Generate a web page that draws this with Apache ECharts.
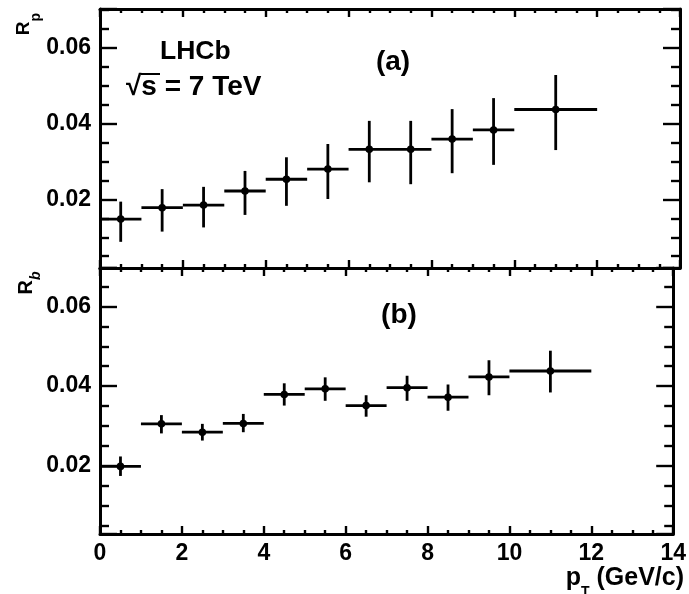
<!DOCTYPE html>
<html><head><meta charset="utf-8">
<script src="https://cdn.jsdelivr.net/npm/echarts@6/dist/echarts.min.js"></script>
<style>html,body{margin:0;padding:0;background:#fff}#c{width:689px;height:594px}</style>
</head><body><div id="c"></div>
<script>
// ---- data ----
const binEdges = [0, 1, 2, 3, 4, 5, 6, 7, 8, 9, 10, 12];
const xTicks = [0, 2, 4, 6, 8, 10, 12, 14];
const yTicks = [0.02, 0.04, 0.06];
// panel (a): R_p
const rpValues = [0.0148, 0.0178, 0.0185, 0.0222, 0.0253, 0.0280, 0.0332, 0.0332, 0.0359, 0.0383, 0.0437];
const rpUpper  = [0.0194, 0.0227, 0.0233, 0.0275, 0.0311, 0.0346, 0.0407, 0.0407, 0.0438, 0.0467, 0.0528];
const rpLower  = [0.0088, 0.0115, 0.0126, 0.0159, 0.0183, 0.0201, 0.0245, 0.0240, 0.0269, 0.0291, 0.0330];
// panel (b): R_b
const rbValues = [0.0198, 0.0305, 0.0284, 0.0306, 0.0379, 0.0393, 0.0351, 0.0396, 0.0372, 0.0423, 0.0438];
const rbUpper  = [0.0223, 0.0327, 0.0305, 0.0330, 0.0407, 0.0422, 0.0377, 0.0426, 0.0404, 0.0465, 0.0489];
const rbLower  = [0.0174, 0.0281, 0.0263, 0.0284, 0.0351, 0.0363, 0.0323, 0.0363, 0.0338, 0.0377, 0.0384];

function buildRows(vals, lo, hi) {
  return vals.map((v, i) => [binEdges[i], binEdges[i + 1], v, lo[i], hi[i]]);
}

const FONT = 'Liberation Sans, Arial, Helvetica, sans-serif';
const AXLAB = {fontFamily: FONT, fontWeight: 'bold', fontSize: 23, color: '#000'};
const LINE = {color: '#000', width: 3};
const TICK = {color: '#000', width: 2.4};

function xAx(gridIndex, position, showLabel) {
  return {
    type: 'value', gridIndex, position, min: 0, max: 14, interval: 2,
    axisLine: {show: true, onZero: false, lineStyle: LINE},
    axisTick: {show: true, inside: true, length: 8, lineStyle: TICK},
    minorTick: {show: true, splitNumber: 4, length: 4, lineStyle: TICK},
    splitLine: {show: false}, minorSplitLine: {show: false},
    axisLabel: showLabel ? Object.assign({}, AXLAB, {margin: 8, showMinLabel: true, showMaxLabel: true,
      formatter: v => (xTicks.indexOf(v) >= 0 ? String(v) : '')}) : {show: false}
  };
}
function yAx(gridIndex, position, showLabel, min, max) {
  return {
    type: 'value', gridIndex, position, min, max,
    minInterval: 0.02, maxInterval: 0.02, splitNumber: 3,
    axisLine: {show: true, onZero: false, lineStyle: LINE},
    axisTick: {show: true, inside: true, length: 17, lineStyle: TICK},
    minorTick: {show: true, splitNumber: 4, length: 9, lineStyle: TICK},
    splitLine: {show: false}, minorSplitLine: {show: false},
    axisLabel: showLabel ? Object.assign({}, AXLAB, {margin: 9, showMinLabel: false, showMaxLabel: false,
      formatter: v => (yTicks.some(t => Math.abs(t - v) < 1e-6) ? v.toFixed(2) : '')}) : {show: false}
  };
}

function renderItem(params, api) {
  const x0 = api.value(0), x1 = api.value(1), y = api.value(2), lo = api.value(3), hi = api.value(4);
  const xc = (x0 + x1) / 2;
  const pL = api.coord([x0, y]), pR = api.coord([x1, y]);
  const pT = api.coord([xc, hi]), pB = api.coord([xc, lo]), pc = api.coord([xc, y]);
  const st = {stroke: '#000', lineWidth: 2.8};
  return {type: 'group', children: [
    {type: 'line', shape: {x1: pL[0], y1: pL[1], x2: pR[0], y2: pR[1]}, style: st},
    {type: 'line', shape: {x1: pT[0], y1: pT[1], x2: pB[0], y2: pB[1]}, style: st},
    {type: 'circle', shape: {cx: pc[0], cy: pc[1], r: 3.8}, style: {fill: '#000'}}
  ]};
}

const chart = echarts.init(document.getElementById('c'), null, {renderer: 'canvas'});
const option = {
  animation: false,
  backgroundColor: '#fff',
  grid: [
    {left: 100, top: 9, width: 580, height: 259, show: false},
    {left: 100, top: 268, width: 580, height: 266, show: false}
  ],
  xAxis: [xAx(0, 'bottom', false), xAx(0, 'top', false), xAx(1, 'bottom', true), xAx(1, 'top', false)],
  yAxis: [yAx(0, 'left', true, 0.0019, 0.0702), yAx(0, 'right', false, 0.0019, 0.0702),
          yAx(1, 'left', true, 0.0028, 0.0697), yAx(1, 'right', false, 0.0028, 0.0697)],
  series: [
    {type: 'custom', xAxisIndex: 0, yAxisIndex: 0, renderItem, data: buildRows(rpValues, rpLower, rpUpper),
     encode: {x: [0, 1], y: [2, 3, 4]}, clip: false},
    {type: 'custom', xAxisIndex: 2, yAxisIndex: 2, renderItem, data: buildRows(rbValues, rbLower, rbUpper),
     encode: {x: [0, 1], y: [2, 3, 4]}, clip: false}
  ],
  graphic: [
    {type: 'text', x: 160, y: 52, style: {text: 'LHCb', fontFamily: FONT, fontWeight: 'bold', fontSize: 26.5,
      fill: '#000', align: 'left', verticalAlign: 'middle'}},
    {type: 'text', x: 126, y: 87, style: {text: '√s = 7 TeV', fontFamily: FONT, fontWeight: 'bold', fontSize: 28,
      fill: '#000', align: 'left', verticalAlign: 'middle'}},
    {type: 'line', shape: {x1: 141, y1: 74, x2: 160, y2: 74}, style: {stroke: '#000', lineWidth: 2}},
    {type: 'text', x: 393, y: 62, style: {text: '(a)', fontFamily: FONT, fontWeight: 'bold', fontSize: 28,
      fill: '#000', align: 'center', verticalAlign: 'middle'}},
    {type: 'text', x: 399, y: 315, style: {text: '(b)', fontFamily: FONT, fontWeight: 'bold', fontSize: 28,
      fill: '#000', align: 'center', verticalAlign: 'middle'}},
    {type: 'text', x: 14, y: 24, rotation: Math.PI / 2, style: {text: '{m|R}{s|p}', fill: '#000',
      align: 'center', verticalAlign: 'top',
      rich: {m: {fontFamily: FONT, fontWeight: 'bold', fontSize: 19, lineHeight: 19, verticalAlign: 'top'},
             s: {fontFamily: FONT, fontWeight: 'bold', fontSize: 14, lineHeight: 14, verticalAlign: 'top', padding: [15, 0, 0, 0]}}}},
    {type: 'text', x: 16, y: 283, rotation: Math.PI / 2, style: {text: '{m|R}{s|b}', fill: '#000',
      align: 'center', verticalAlign: 'top',
      rich: {m: {fontFamily: FONT, fontWeight: 'bold', fontSize: 20, lineHeight: 20, verticalAlign: 'top'},
             s: {fontFamily: FONT, fontWeight: 'bold', fontStyle: 'italic', fontSize: 14, lineHeight: 14, verticalAlign: 'top', padding: [13, 0, 0, 0]}}}},
    {type: 'text', x: 684, y: 566, style: {text: '{m|p}{s|T}{m| (GeV/c)}', fill: '#000',
      align: 'right', verticalAlign: 'top',
      rich: {m: {fontFamily: FONT, fontWeight: 'bold', fontSize: 25, lineHeight: 25, verticalAlign: 'top'},
             s: {fontFamily: FONT, fontWeight: 'bold', fontSize: 14, lineHeight: 14, verticalAlign: 'top', padding: [19, 0, 0, 0]}}}}
  ]
};
chart.setOption(option);
</script>
</body></html>
